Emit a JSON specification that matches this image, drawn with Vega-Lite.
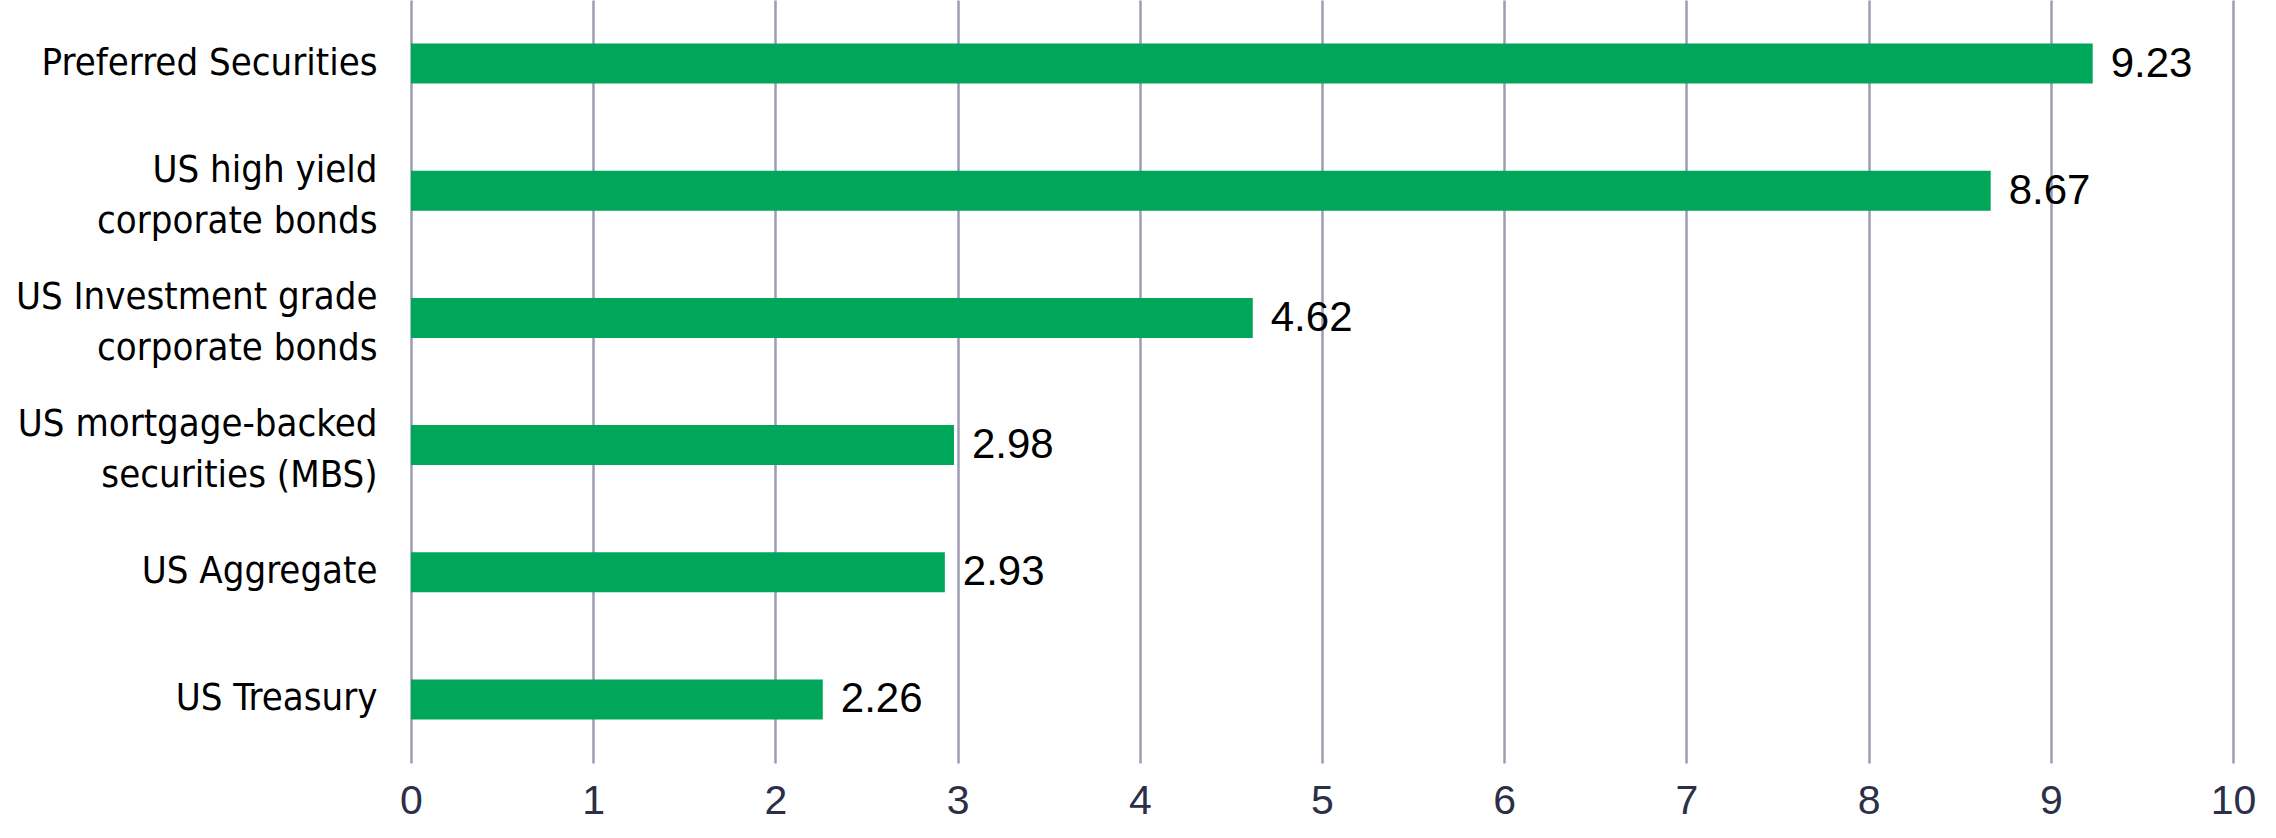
{
  "$schema": "https://vega.github.io/schema/vega-lite/v6.json",
  "autosize": {"type": "none"},
  "padding": {"left": 411, "top": 0, "right": 43, "bottom": 75},
  "width": 1822,
  "height": 763,
  "background": "white",
  "data": {
    "values": [
      {"category": "Preferred Securities", "value": 9.23},
      {"category": "US high yield corporate bonds", "value": 8.67},
      {"category": "US Investment grade corporate bonds", "value": 4.62},
      {"category": "US mortgage-backed securities (MBS)", "value": 2.98},
      {"category": "US Aggregate", "value": 2.93},
      {"category": "US Treasury", "value": 2.26}
    ]
  },
  "encoding": {
    "y": {
      "field": "category",
      "type": "nominal",
      "sort": null,
      "scale": {"paddingInner": 0, "paddingOuter": 0},
      "axis": {
        "title": null,
        "domain": false,
        "ticks": false,
        "labelPadding": 34,
        "labelFont": "DejaVu Sans Condensed, sans-serif",
        "labelFontSize": 38,
        "labelColor": "#000000",
        "labelLineHeight": 51,
        "labelLimit": 500,
        "labelOffset": {"condition": {"test": "length(datum.value) > 20", "value": -20}, "value": 0},
        "labelExpr": "datum.value == 'US high yield corporate bonds' ? ['US high yield', 'corporate bonds'] : datum.value == 'US Investment grade corporate bonds' ? ['US Investment grade', 'corporate bonds'] : datum.value == 'US mortgage-backed securities (MBS)' ? ['US mortgage-backed', 'securities (MBS)'] : datum.value"
      }
    },
    "x": {
      "field": "value",
      "type": "quantitative",
      "scale": {"domain": [0, 10], "nice": false},
      "axis": {
        "title": null,
        "domain": false,
        "ticks": false,
        "values": [0, 1, 2, 3, 4, 5, 6, 7, 8, 9, 10],
        "labelOverlap": false,
        "grid": true,
        "gridColor": "#9c9db3",
        "gridWidth": 2.5,
        "labelPadding": 18,
        "labelFont": "Liberation Sans, sans-serif",
        "labelFontSize": 41,
        "labelColor": "#2b2f48",
        "labelFlush": false
      }
    }
  },
  "layer": [
    {"mark": {"type": "bar", "color": "#00a65a", "size": 40}},
    {
      "mark": {"type": "text", "align": "left", "baseline": "middle", "dx": 18, "font": "Liberation Sans, sans-serif", "fontSize": 42, "color": "#000000"},
      "encoding": {"text": {"field": "value", "type": "quantitative", "format": ".2f"}}
    }
  ],
  "config": {"view": {"stroke": null}}
}
